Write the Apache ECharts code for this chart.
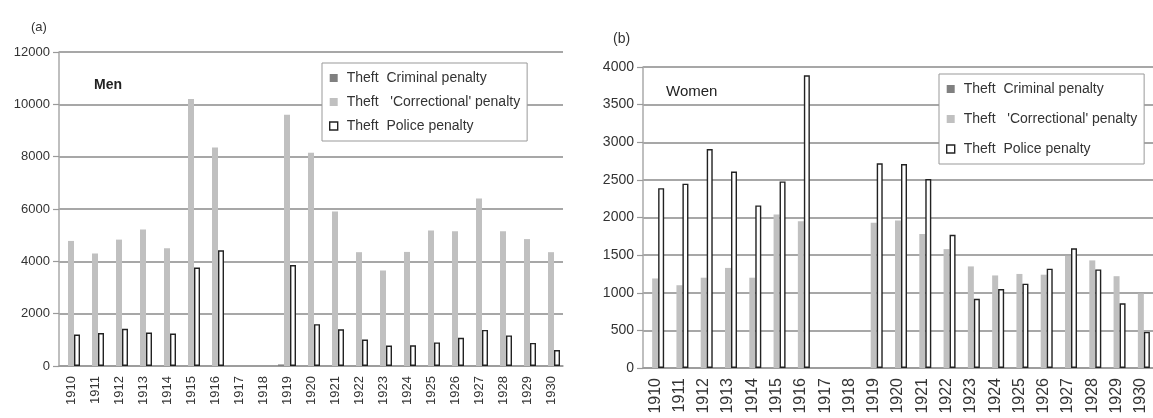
<!DOCTYPE html>
<html>
<head>
<meta charset="utf-8">
<script src="https://cdn.jsdelivr.net/npm/echarts@6/dist/echarts.min.js"></script>
<style>
  html, body { margin: 0; padding: 0; background: #fff; }
  #chart { width: 1153px; height: 418px; }
</style>
</head>
<body>
<div id="chart"></div>
<script>
// 年份
const years = ['1910', '1911', '1912', '1913', '1914', '1915', '1916', '1917', '1918', '1919', '1920',
  '1921', '1922', '1923', '1924', '1925', '1926', '1927', '1928', '1929', '1930'];

const seriesNames = ['Theft  Criminal penalty', "Theft   'Correctional' penalty", 'Theft  Police penalty'];

// (a) Men  —— 1917、1918 无数据
const menCriminal = [0, 0, 0, 0, 0, 0, 0, null, null, 60, 0, 0, 0, 0, 0, 0, 0, 0, 0, 0, 0];
const menCorrectional = [4780, 4300, 4830, 5220, 4500, 10200, 8350, null, null, 9600, 8150,
  5900, 4350, 3650, 4360, 5180, 5150, 6400, 5150, 4850, 4350];
const menPolice = [1200, 1260, 1420, 1280, 1240, 3760, 4420, null, null, 3860, 1600,
  1400, 1010, 780, 790, 900, 1080, 1380, 1170, 880, 610];

// (b) Women
const womenCriminal = [0, 0, 0, 0, 0, 0, 0, null, null, 0, 0, 0, 0, 0, 0, 0, 0, 0, 0, 0, 0];
const womenCorrectional = [1190, 1100, 1200, 1330, 1200, 2040, 1950, null, null, 1930, 1960,
  1780, 1580, 1350, 1230, 1250, 1240, 1490, 1430, 1220, 990];
const womenPolice = [2390, 2450, 2910, 2610, 2160, 2480, 3890, null, null, 2720, 2710,
  2510, 1770, 920, 1050, 1120, 1320, 1590, 1310, 860, 480];

const font = 'Liberation Sans, Arial, sans-serif';
const textColor = '#333';
const styles = [
  { color: '#808080' },
  { color: '#c0c0c0' },
  { color: '#ffffff', borderColor: '#222', borderWidth: 1.4 }
];

function xAxis(gridIndex, fontSize) {
  return {
    type: 'category',
    gridIndex: gridIndex,
    data: years,
    axisLine: { lineStyle: { color: '#9a9a9a', width: 1.5 } },
    axisTick: { interval: 0, length: 6, lineStyle: { color: '#9a9a9a', width: 1.2 } },
    axisLabel: { interval: 0, rotate: 90, margin: 10, color: textColor, fontFamily: font, fontSize: fontSize }
  };
}

function yAxis(gridIndex, max, interval, fontSize) {
  return {
    type: 'value',
    gridIndex: gridIndex,
    min: 0,
    max: max,
    interval: interval,
    axisLine: { show: true, lineStyle: { color: '#aaa', width: 1.5 } },
    axisTick: { show: true, length: 6, lineStyle: { color: '#9a9a9a', width: 1.2 } },
    axisLabel: { margin: 9, color: textColor, fontFamily: font, fontSize: fontSize, formatter: v => String(v) },
    splitLine: { lineStyle: { color: '#8a8a8a', width: 1.6 } }
  };
}

function bars(idx, datas) {
  return datas.map((d, i) => ({
    name: seriesNames[i],
    type: 'bar',
    xAxisIndex: idx,
    yAxisIndex: idx,
    data: d,
    barWidth: 6,
    barGap: '0%',
    itemStyle: styles[i],
    silent: true
  }));
}

function legend(left, top, gap) {
  return {
    orient: 'vertical',
    left: left,
    top: top,
    backgroundColor: '#fff',
    borderColor: '#999',
    borderWidth: 1,
    padding: [8, 7, 8, 7],
    itemGap: gap,
    itemWidth: 8,
    itemHeight: 8,
    icon: 'rect',
    selectedMode: false,
    textStyle: { fontFamily: font, fontSize: 14, color: textColor, padding: [0, 0, 0, 4] },
    data: seriesNames.map((n, i) => ({ name: n, itemStyle: styles[i] }))
  };
}

const chart = echarts.init(document.getElementById('chart'));
chart.setOption({
  animation: false,
  title: [
    { text: '(a)', left: 26, top: 16, textStyle: { fontFamily: font, fontSize: 13, fontWeight: 'normal', color: textColor } },
    { text: 'Men', left: 89, top: 73, textStyle: { fontFamily: font, fontSize: 14, fontWeight: 'bold', color: '#222' } },
    { text: '(b)', left: 608, top: 27, textStyle: { fontFamily: font, fontSize: 14, fontWeight: 'normal', color: textColor } },
    { text: 'Women', left: 661, top: 79, textStyle: { fontFamily: font, fontSize: 15, fontWeight: 'normal', color: '#222' } }
  ],
  legend: [legend(322, 63, 10), legend(939, 74, 16)],
  grid: [
    { left: 59, top: 52, width: 504, height: 314 },
    { left: 643, top: 67, width: 512, height: 301 }
  ],
  xAxis: [xAxis(0, 13), xAxis(1, 16)],
  yAxis: [yAxis(0, 12000, 2000, 13), yAxis(1, 4000, 500, 14)],
  series: [].concat(
    bars(0, [menCriminal, menCorrectional, menPolice]),
    bars(1, [womenCriminal, womenCorrectional, womenPolice])
  )
});
</script>
</body>
</html>
